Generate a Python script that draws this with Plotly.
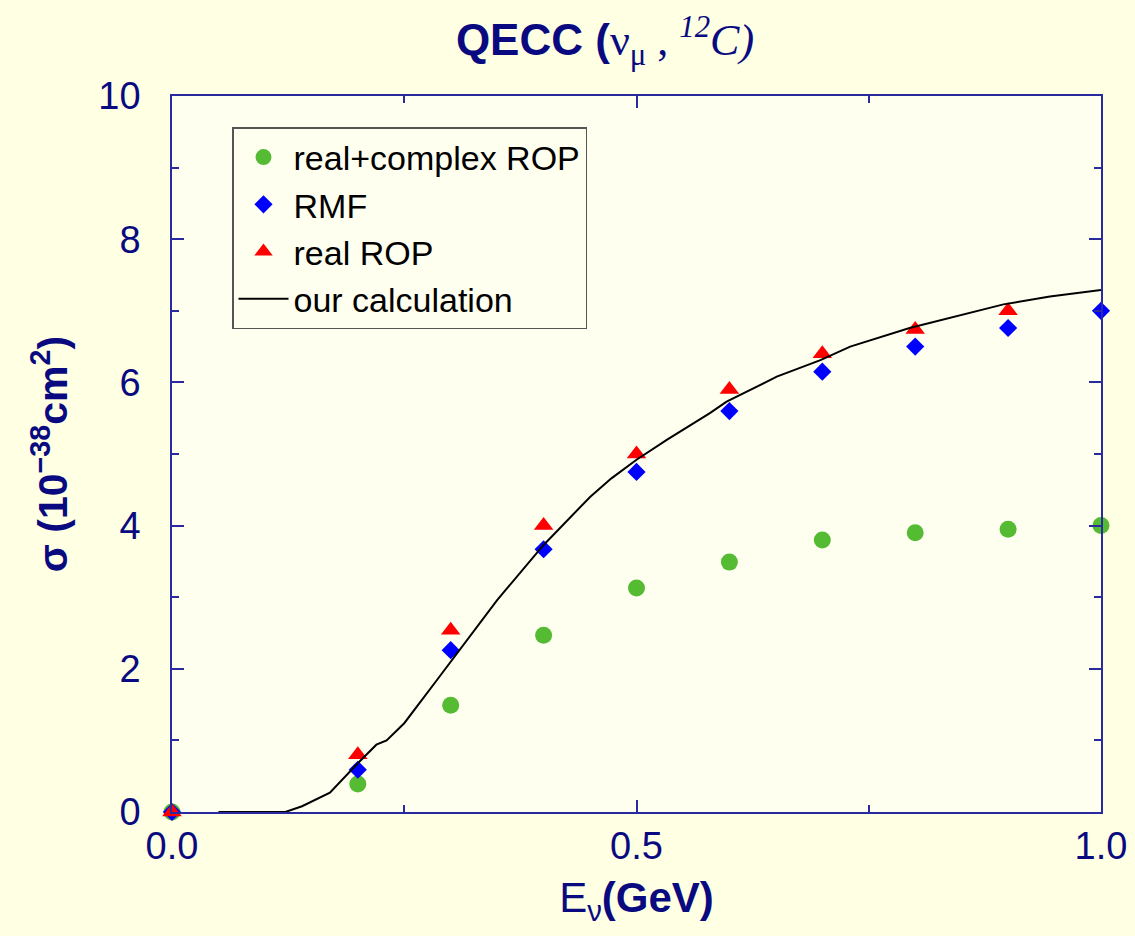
import plotly.graph_objects as go

# Data points
x_pts = [0.0, 0.2, 0.3, 0.4, 0.5, 0.6, 0.7, 0.8, 0.9, 1.0]
complex_rop = [0.0, 0.39, 1.49, 2.47, 3.13, 3.49, 3.80, 3.90, 3.95, 4.00]
rmf = [0.0, 0.59, 2.26, 3.67, 4.75, 5.60, 6.15, 6.50, 6.76, 7.00]
x_real = [0.0, 0.2, 0.3, 0.4, 0.5, 0.6, 0.7, 0.8, 0.9]
real_rop = [0.0, 0.80, 2.54, 4.00, 5.00, 5.90, 6.40, 6.74, 7.00]

# Our calculation (curve)
x_calc = [0.05, 0.10, 0.122, 0.14, 0.17, 0.20, 0.22, 0.231, 0.25, 0.285, 0.30, 0.35,
          0.40, 0.45, 0.473, 0.50, 0.533, 0.579, 0.597, 0.651, 0.698, 0.73, 0.794,
          0.848, 0.895, 0.945, 1.0]
y_calc = [0.0, 0.0, 0.0, 0.08, 0.27, 0.68, 0.94, 1.0, 1.24, 1.84, 2.1, 2.96,
          3.73, 4.4, 4.66, 4.92, 5.2, 5.57, 5.73, 6.08, 6.31, 6.5, 6.76,
          6.94, 7.09, 7.2, 7.29]

NAVY = "#0a0a80"
AXIS = "#2a2aa0"
BG = "#ffffe4"
PLOT_BG = "#fffff0"
SANS = "Liberation Sans, Arial, sans-serif"

fig = go.Figure()
fig.add_trace(go.Scatter(x=x_pts, y=complex_rop, mode="markers", name="real+complex ROP",
                         marker=dict(symbol="circle", size=17, color="#55bb33"), cliponaxis=False))
fig.add_trace(go.Scatter(x=x_pts, y=rmf, mode="markers", name="RMF",
                         marker=dict(symbol="diamond", size=14, color="#0000ff"), cliponaxis=False))
fig.add_trace(go.Scatter(x=x_real, y=real_rop, mode="markers", name="real ROP",
                         marker=dict(symbol="triangle-up", size=17, color="#ff0000"), cliponaxis=False))
fig.add_trace(go.Scatter(x=x_calc, y=y_calc, mode="lines", name="our calculation",
                         line=dict(color="black", width=2)))

title_text = ("<b>QECC (</b><span style='font-family:Liberation Serif'>ν<sub>μ</sub> , "
              "<sup><i>12</i></sup><i>C)</i></span>")

fig.update_layout(
    width=1135, height=936,
    paper_bgcolor=BG, plot_bgcolor=PLOT_BG,
    margin=dict(l=172, r=34, t=96, b=124, autoexpand=False),
    font=dict(family=SANS, color=NAVY, size=38),
    title=dict(text=title_text, x=605/1135, xref="container",
               xanchor="center", y=1-40/936, yanchor="middle",
               font=dict(size=44, color=NAVY, family=SANS)),
    showlegend=True,
    legend=dict(x=(232-172)/929, y=(812-127)/716, xanchor="left", yanchor="top",
                bgcolor=PLOT_BG, bordercolor="#555555", borderwidth=1.5,
                font=dict(size=34, color="black", family=SANS),
                itemsizing="trace", tracegroupgap=0, itemwidth=50),
    xaxis=dict(range=[0, 1], dtick=0.5, tickformat=".1f", showgrid=False, zeroline=False,
               automargin=False,
               showline=True, linecolor=AXIS, linewidth=1.5, mirror="ticks",
               ticks="inside", ticklen=12, tickcolor=AXIS, tickwidth=1.5,
               minor=dict(dtick=0.25, ticks="inside", ticklen=7, tickcolor=AXIS, tickwidth=1.5),
               tickfont=dict(size=38, color=NAVY),
               title=dict(text="E<sub>ν</sub><b>(GeV)</b>", font=dict(size=42, color=NAVY), standoff=16)),
    yaxis=dict(range=[0, 10], dtick=2, showgrid=False, zeroline=False,
               automargin=False,
               showline=True, linecolor=AXIS, linewidth=1.5, mirror="ticks",
               ticks="inside", ticklen=12, tickcolor=AXIS, tickwidth=1.5,
               minor=dict(dtick=1, ticks="inside", ticklen=7, tickcolor=AXIS, tickwidth=1.5),
               tickfont=dict(size=38, color=NAVY), ticklabelstandoff=22,
               title=dict(text="<b>σ (10<sup>−38</sup>cm<sup>2</sup>)</b>",
                          font=dict(size=41, color=NAVY), standoff=18)),
)

fig.write_html("out.html")
